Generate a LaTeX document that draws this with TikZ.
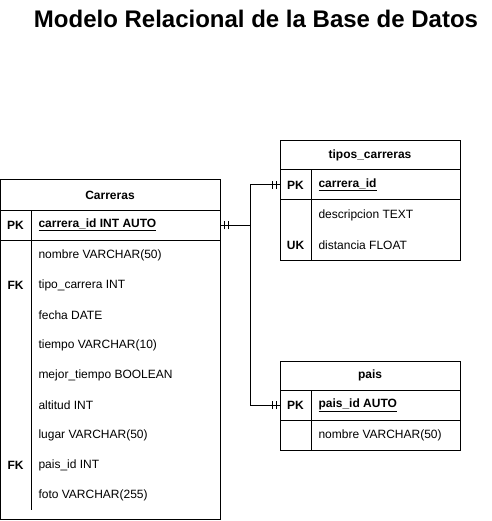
\documentclass[tikz,border=0pt]{standalone}
\usepackage{fontspec}
\setmainfont{Liberation Sans}
\usepackage{tikz}
\usetikzlibrary{decorations.markings}

\tikzset{
  tbl/.style={draw=black},
  ttl/.style={font=\fontsize{12}{14}\selectfont\bfseries, inner sep=0pt},
  keycol/.style={font=\fontsize{12}{14}\selectfont\bfseries, inner sep=0pt},
  field/.style={anchor=west, font=\fontsize{12}{14}\selectfont, inner sep=0pt},
  pkfield/.style={field, font=\fontsize{12}{14}\selectfont\bfseries},
  rowbox/.style={minimum height=30pt, inner sep=0pt, outer sep=0pt},
  onebar/.style={draw, line width=1pt},
  rel/.style={draw, postaction={decorate}, decoration={markings,
    mark=at position 4pt with {\draw (0,-4pt) -- (0,4pt);},
    mark=at position 8pt with {\draw (0,-4pt) -- (0,4pt);},
    mark=at position -4pt with {\draw (0,-4pt) -- (0,4pt);},
    mark=at position -8pt with {\draw (0,-4pt) -- (0,4pt);}}},
}

\begin{document}
\begin{tikzpicture}[x=1pt, y=-1pt, line width=1pt]
\useasboundingbox (0,0) rectangle (491,521);

\node[font=\fontsize{24}{28}\selectfont\bfseries] (title) at (256,19) {Modelo Relacional de la Base de Datos};

% Carreras
\draw[tbl] (0.5,180) rectangle (220,519.5);
\draw[tbl] (0.5,210) -- (220,210) (0.5,240) -- (220,240);
\draw[tbl] (31,210) -- (31,510);
\node[ttl] (carrT) at (110,195) {Carreras};
\node[rowbox, minimum width=219.5pt] (carrPKrow) at (110.25,225) {};
\node[keycol] (carrPKk) at (15.5,225) {PK};
\node[pkfield] (carrPK) at (38,225) {\underline{carrera\_id INT AUTO}};
\foreach \k/\txt [count=\i] in {{}/nombre VARCHAR(50), FK/tipo\_carrera INT, {}/fecha DATE,
    {}/tiempo VARCHAR(10), {}/mejor\_tiempo BOOLEAN, {}/altitud INT, {}/lugar VARCHAR(50),
    FK/pais\_id INT, {}/foto VARCHAR(255)}
{
  \node[keycol] (carrK\i) at (15.5,{225+30*\i}) {\k};
  \node[field] (carrF\i) at (38,{225+30*\i}) {\txt};
}

% tipos_carreras
\draw[tbl] (280,140.5) rectangle (460,260);
\draw[tbl] (280,170) -- (460,170) (280,200) -- (460,200);
\draw[tbl] (311,170) -- (311,260);
\node[ttl] (tipT) at (370,155) {tipos\_carreras};
\node[rowbox, minimum width=180pt] (tipPKrow) at (370,185) {};
\node[keycol] (tipPKk) at (295.5,185) {PK};
\node[pkfield] (tipPK) at (318,185) {\underline{carrera\_id}};
\node[field] (tipF1) at (318,215) {descripcion TEXT};
\node[keycol] (tipK2) at (295.5,245) {UK};
\node[field] (tipF2) at (318,245) {distancia FLOAT};

% pais
\draw[tbl] (280,361) rectangle (460,450);
\draw[tbl] (280,390) -- (460,390) (280,420) -- (460,420);
\draw[tbl] (311,390) -- (311,450);
\node[ttl] (paisT) at (370,375.5) {pais};
\node[rowbox, minimum width=180pt] (paisPKrow) at (370,405) {};
\node[keycol] (paisPKk) at (295.5,405) {PK};
\node[pkfield] (paisPK) at (318,405) {\underline{pais\_id AUTO}};
\node[field] (paisF1) at (318,435) {nombre VARCHAR(50)};

% relaciones
\coordinate (jn) at (250,225);
\draw[rel] (carrPKrow.east) -- (jn) |- (tipPKrow.west);
\draw[rel] (carrPKrow.east) -- (jn) |- (paisPKrow.west);
\end{tikzpicture}
\end{document}
